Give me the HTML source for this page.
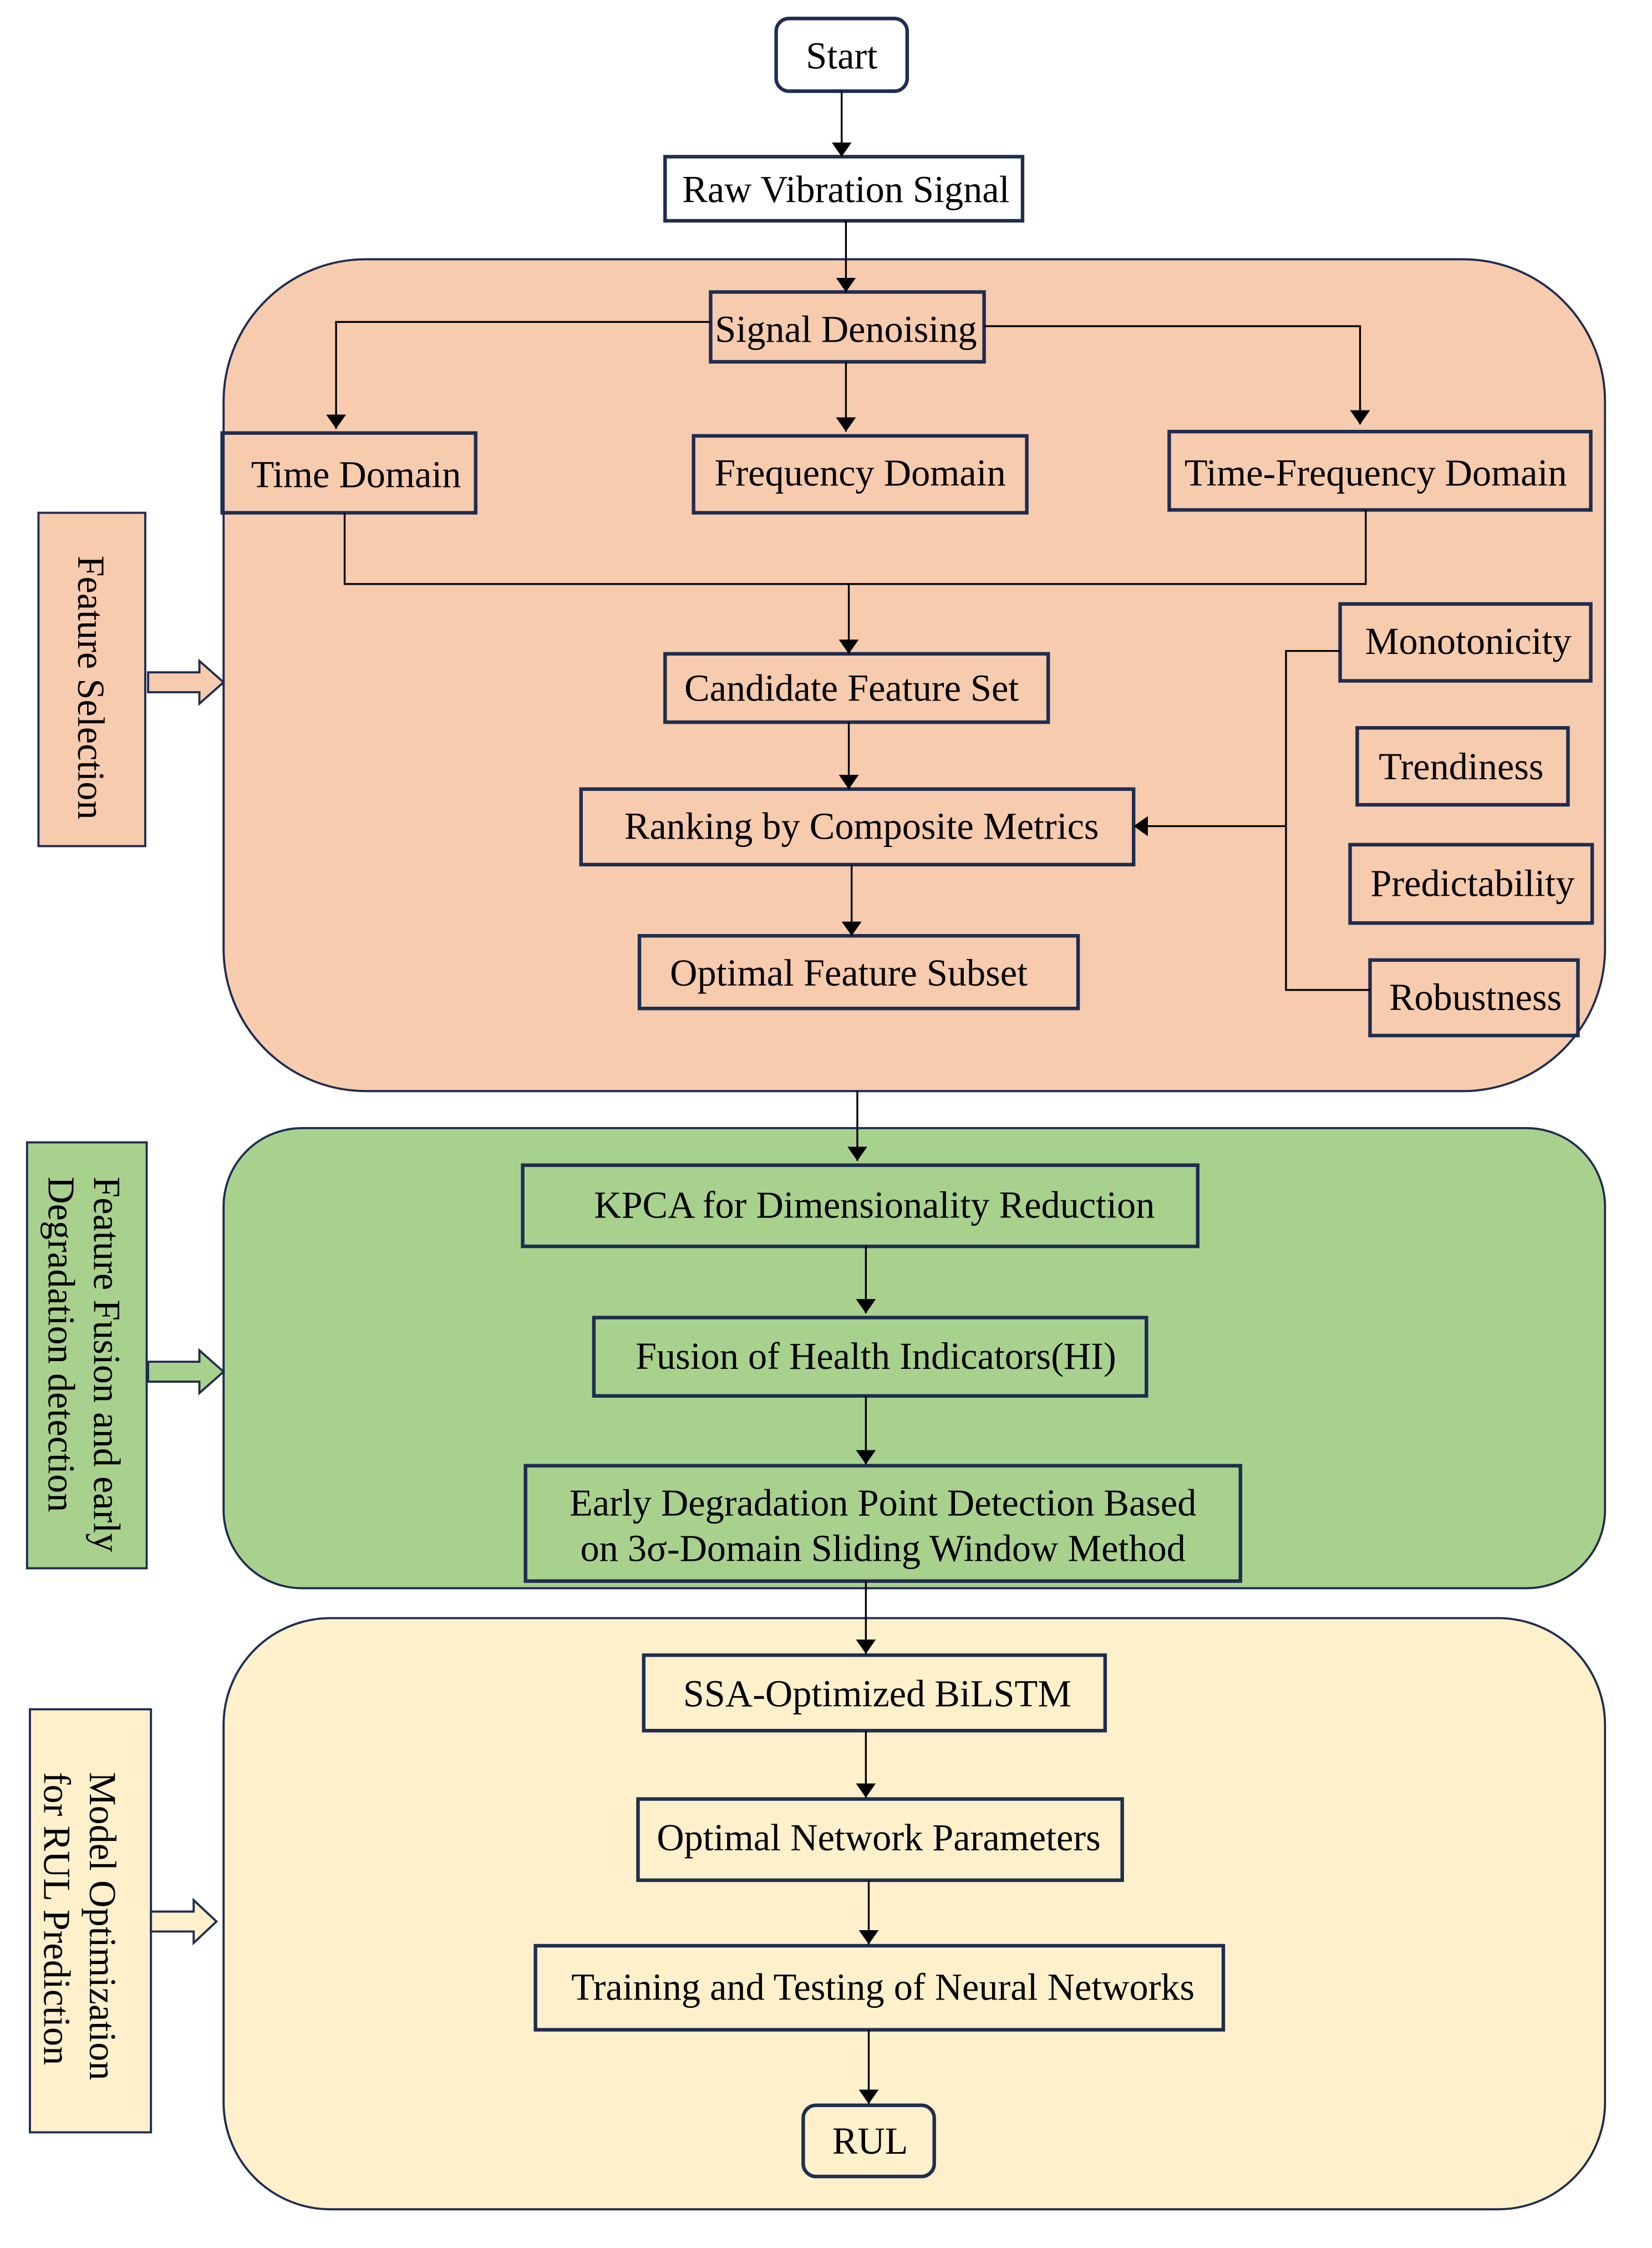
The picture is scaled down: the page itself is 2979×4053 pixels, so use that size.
<!DOCTYPE html>
<html><head><meta charset="utf-8"><style>
html,body{margin:0;padding:0;background:#fff;}
svg{display:block;}
text{font-family:"Liberation Serif",serif;font-size:26.6px;fill:#000;}
</style></head><body>
<svg width="2979" height="4053" viewBox="0 0 1160 1578.2" preserveAspectRatio="none" xmlns="http://www.w3.org/2000/svg">
<defs>
<marker id="a" viewBox="0 0 10 14" refX="10" refY="7" markerWidth="10" markerHeight="14" markerUnits="userSpaceOnUse" orient="auto">
<path d="M0,0 L10,7 L0,14 z" fill="#000"/></marker>
</defs>
<g stroke="#1F2D50" stroke-width="1.5">
<rect x="157" y="182" width="970" height="584" rx="100" fill="#F7CBAD"/>
<rect x="157" y="792" width="970" height="323" rx="55" fill="#A9D18E"/>
<rect x="157" y="1136" width="970" height="415" rx="75" fill="#FEF0CB"/>
<rect x="27" y="360" width="75" height="234" fill="#F7CBAD"/>
<rect x="19" y="802" width="84" height="299" fill="#A9D18E"/>
<rect x="21" y="1200" width="85" height="297" fill="#FEF0CB"/>
<path d="M104,472 H140 V464 L157,479 L140,494 V486 H104 Z" fill="#F7CBAD"/>
<path d="M104,956 H140 V948 L157,963 L140,978 V970 H104 Z" fill="#A9D18E"/>
<path d="M106,1342 H136 V1334 L152,1349 L136,1364 V1356 H106 Z" fill="#FEF0CB"/>
</g>
<g stroke="#1F2D50" stroke-width="2.5" fill="none">
<rect x="545" y="13" width="92" height="51" rx="9" fill="#fff"/>
<rect x="467" y="110" width="251" height="45" fill="#fff"/>
<rect x="499" y="205" width="192" height="49"/>
<rect x="156" y="304" width="178" height="56"/>
<rect x="487" y="306" width="234" height="54"/>
<rect x="821" y="303" width="296" height="55"/>
<rect x="467" y="459" width="269" height="48"/>
<rect x="408" y="554" width="388" height="53"/>
<rect x="449" y="657" width="308" height="51"/>
<rect x="941" y="424" width="176" height="54"/>
<rect x="953" y="511" width="148" height="54"/>
<rect x="948" y="593" width="170" height="55"/>
<rect x="962" y="674" width="146" height="53"/>
<rect x="367" y="818" width="474" height="57"/>
<rect x="417" y="925" width="388" height="55"/>
<rect x="369" y="1029" width="502" height="81"/>
<rect x="452" y="1162" width="324" height="53"/>
<rect x="448" y="1263" width="340" height="57"/>
<rect x="376" y="1366" width="483" height="59"/>
<rect x="564" y="1478" width="92" height="50" rx="9"/>
</g>
<g stroke="#000" stroke-width="1.3" fill="none">
<path d="M591,64 V110" marker-end="url(#a)"/>
<path d="M594,155 V205" marker-end="url(#a)"/>
<path d="M499,226 H236 V301" marker-end="url(#a)"/>
<path d="M691,229 H955 V298" marker-end="url(#a)"/>
<path d="M594,254 V303" marker-end="url(#a)"/>
<path d="M242,360 V410 H959 V358"/>
<path d="M596,410 V459" marker-end="url(#a)"/>
<path d="M596,507 V554" marker-end="url(#a)"/>
<path d="M598,607 V657" marker-end="url(#a)"/>
<path d="M941,457 H903 V695 H962"/>
<path d="M903,580 H796" marker-end="url(#a)"/>
<path d="M602,766 V815" marker-end="url(#a)"/>
<path d="M608,875 V922" marker-end="url(#a)"/>
<path d="M608,980 V1028" marker-end="url(#a)"/>
<path d="M608,1110 V1161" marker-end="url(#a)"/>
<path d="M608,1215 V1262" marker-end="url(#a)"/>
<path d="M610,1320 V1365" marker-end="url(#a)"/>
<path d="M610,1425 V1477" marker-end="url(#a)"/>
</g>
<g text-anchor="middle">
<text x="591" y="48">Start</text>
<text x="594" y="142">Raw Vibration Signal</text>
<text x="594" y="240">Signal Denoising</text>
<text x="250" y="342">Time Domain</text>
<text x="604" y="341">Frequency Domain</text>
<text x="966" y="341">Time-Frequency Domain</text>
<text x="598" y="492">Candidate Feature Set</text>
<text x="605" y="589">Ranking by Composite Metrics</text>
<text x="596" y="692">Optimal Feature Subset</text>
<text x="1031" y="459">Monotonicity</text>
<text x="1026" y="547">Trendiness</text>
<text x="1034" y="629">Predictability</text>
<text x="1036" y="709">Robustness</text>
<text x="614" y="855">KPCA for Dimensionality Reduction</text>
<text x="615" y="961">Fusion of Health Indicators(HI)</text>
<text x="620" y="1064">Early Degradation Point Detection Based</text>
<text x="620" y="1096">on 3σ-Domain Sliding Window Method</text>
<text x="616" y="1198">SSA-Optimized BiLSTM</text>
<text x="617" y="1299">Optimal Network Parameters</text>
<text x="620" y="1404">Training and Testing of Neural Networks</text>
<text x="611" y="1512">RUL</text>
</g>
<g>
<text transform="translate(55,390) rotate(90)">Feature Selection</text>
<text transform="translate(66,826) rotate(90)">Feature Fusion and early</text>
<text transform="translate(34,826) rotate(90)">Degradation detection</text>
<text transform="translate(63,1244) rotate(90)">Model Optimization</text>
<text transform="translate(31,1244) rotate(90)">for RUL Prediction</text>
</g>
</svg>
</body></html>
